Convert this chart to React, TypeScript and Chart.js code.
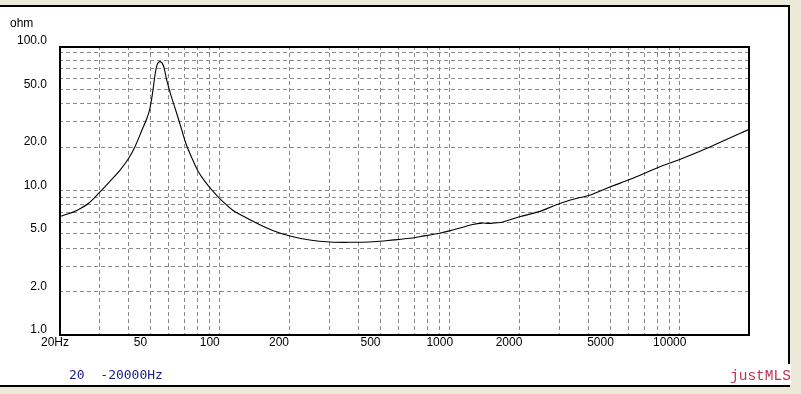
import { useEffect, useRef } from 'react';
import { Chart, registerables } from 'chart.js';

Chart.register(...registerables);

// ---- data ----
const freqHz = [
  20, 22, 24, 27, 30, 33, 36.8, 40, 42.8, 45.9, 48, 49.5, 51, 52.3, 53.4, 55, 56.9, 58.8,
  61.5, 64.9, 68.3, 71.5, 75.9, 80.5, 86, 92.3, 100, 114, 122, 145, 171, 202, 246, 302,
  369, 465, 571, 671, 739, 903, 1030, 1259, 1380, 1489, 1700, 2007, 2449, 2890, 3347,
  3700, 4085, 4988, 6087, 8200, 10000, 13600, 20000,
];
const impedanceOhm = [
  6.6, 6.9, 7.3, 8.2, 9.7, 11.4, 13.8, 16.5, 20.1, 26.2, 31, 36, 47, 63, 74, 78, 73, 58,
  45, 34.4, 26.4, 20.8, 16.6, 13.6, 11.6, 10.1, 8.8, 7.3, 6.85, 5.94, 5.27, 4.84, 4.54, 4.4,
  4.38, 4.42, 4.55, 4.67, 4.79, 5.06, 5.33, 5.82, 5.95, 5.92, 6.05, 6.58, 7.14, 7.94, 8.6,
  8.95, 9.3, 10.6, 11.95, 14.6, 16.4, 20.1, 26.5,
];

const xGridHz = [
  20, 30, 40, 50, 60, 70, 80, 90, 100, 200, 300, 400, 500, 600, 700, 800, 900,
  1000, 2000, 3000, 4000, 5000, 6000, 7000, 8000, 9000, 10000,
];
const xTickLabels: Record<number, string> = {
  50: '50', 100: '100', 200: '200', 500: '500', 1000: '1000', 2000: '2000', 5000: '5000', 10000: '10000',
};
const firstXLabel = '20Hz';
const yGridOhm = [1, 2, 3, 4, 5, 6, 7, 8, 9, 10, 20, 30, 40, 50, 60, 70, 80, 90, 100];
const yTickLabels: Record<number, string> = {
  1: '1.0', 2: '2.0', 5: '5.0', 10: '10.0', 20: '20.0', 50: '50.0', 100: '100.0',
};
const yUnit = 'ohm';
const rangeText = '20  -20000Hz';
const brandText = 'justMLS';

const FONT = '"Liberation Sans", Arial, sans-serif';
const GRID = '#8a8a8a';

const framePlugin = {
  id: 'mlsFrame',
  beforeDraw(chart: any) {
    const { ctx, width, height } = chart;
    ctx.save();
    ctx.fillStyle = '#ECE9D8';
    ctx.fillRect(0, 0, width, height);
    ctx.fillStyle = '#ffffff';
    ctx.fillRect(0, 7, 788, 378);
    ctx.fillStyle = '#000000';
    ctx.fillRect(0, 5, 790, 2);
    ctx.fillRect(788, 5, 2, 382);
    ctx.fillRect(0, 385, 790, 2);
    ctx.restore();
  },
  afterDraw(chart: any) {
    const { ctx, chartArea: ca } = chart;
    const xs = chart.scales.x;
    ctx.save();
    // plot frame
    ctx.strokeStyle = '#000';
    ctx.lineWidth = 2;
    ctx.setLineDash([]);
    ctx.strokeRect(ca.left + 1, ca.top + 1, ca.right - ca.left - 1, ca.bottom - ca.top - 1);
    // texts
    ctx.fillStyle = '#000';
    ctx.font = `12px ${FONT}`;
    ctx.textAlign = 'left';
    ctx.textBaseline = 'alphabetic';
    ctx.fillText(yUnit, 10, 27);
    ctx.textBaseline = 'middle';
    ctx.fillText(firstXLabel, xs.getPixelForValue(20) - 18, ca.bottom + 7.2);
    // range
    ctx.textBaseline = 'alphabetic';
    ctx.fillStyle = '#1c1c8c';
    ctx.font = '13px "DejaVu Sans Mono", monospace';
    ctx.fillText(rangeText, 69, 379);
    // brand
    ctx.fillStyle = '#ffffff';
    ctx.fillRect(728, 364, 63, 21);
    ctx.fillStyle = '#c03050';
    ctx.font = '14.5px "Liberation Mono", monospace';
    ctx.fillText(brandText, 730, 380);
    ctx.restore();
  },
};

export default function App() {
  const ref = useRef<HTMLCanvasElement | null>(null);
  useEffect(() => {
    if (!ref.current) return;
    const chart = new Chart(ref.current, {
      type: 'line',
      data: {
        datasets: [
          {
            data: freqHz.map((f, i) => ({ x: f, y: impedanceOhm[i] })),
            borderColor: '#000',
            borderWidth: 1.1,
            pointRadius: 0,
            tension: 0.35,
            fill: false,
          },
        ],
      },
      options: {
        animation: false,
        responsive: false,
        devicePixelRatio: 1,
        layout: { padding: { left: 0, top: 46, right: 52, bottom: 0 } },
        plugins: { legend: { display: false }, tooltip: { enabled: false } },
        scales: {
          x: {
            type: 'logarithmic',
            min: 20,
            max: 20000,
            afterBuildTicks: (s: any) => {
              s.ticks = xGridHz.map((v) => ({ value: v }));
            },
            afterFit: (s: any) => {
              s.height = 59;
            },
            grid: {
              color: (c: any) => (c.tick && c.tick.value === 20 ? 'transparent' : GRID),
              lineWidth: 1,
              drawTicks: false,
            },
            border: { display: false, dash: [4, 3] },
            ticks: {
              autoSkip: false,
              maxRotation: 0,
              minRotation: 0,
              padding: 0,
              labelOffset: -10,
              color: '#000',
              font: { family: FONT, size: 12 },
              callback: (v: any) => xTickLabels[Number(v)] ?? '',
            },
          },
          y: {
            type: 'logarithmic',
            min: 1,
            max: 100,
            afterBuildTicks: (s: any) => {
              s.ticks = yGridOhm.map((v) => ({ value: v }));
            },
            afterFit: (s: any) => {
              s.width = 59;
            },
            grid: {
              color: (c: any) =>
                c.tick && (c.tick.value === 1 || c.tick.value === 100) ? 'transparent' : GRID,
              lineWidth: 1,
              drawTicks: false,
            },
            border: { display: false, dash: [4, 3] },
            ticks: {
              autoSkip: false,
              padding: 12,
              labelOffset: -5,
              color: '#000',
              font: { family: FONT, size: 12 },
              callback: (v: any) => yTickLabels[Number(v)] ?? '',
            },
          },
        },
      },
      plugins: [framePlugin],
    } as any);
    return () => chart.destroy();
  }, []);
  return (
    <div style={{ position: 'fixed', left: 0, top: 0, width: 801, height: 394 }}>
      <canvas ref={ref} width={801} height={394} style={{ display: 'block' }} />
    </div>
  );
}
